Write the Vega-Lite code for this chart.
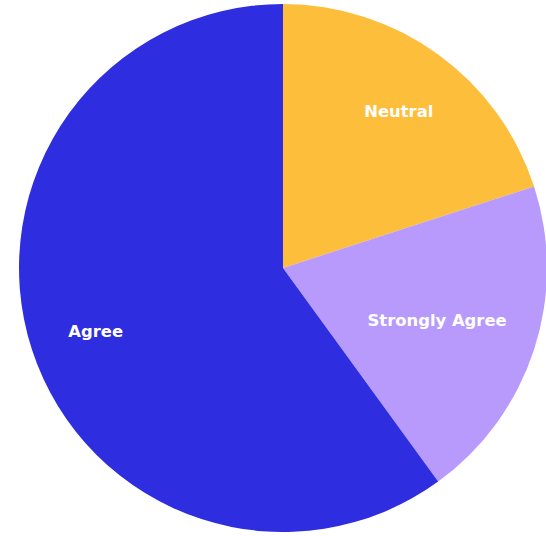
{
  "$schema": "https://vega.github.io/schema/vega-lite/v6.json",
  "width": 526,
  "height": 536,
  "autosize": "none",
  "padding": {"left": 20, "top": 0, "right": 0, "bottom": 0},
  "background": "white",
  "view": {"stroke": null},
  "data": {
    "values": [
      {"response": "Neutral", "value": 20, "rank": 1},
      {"response": "Strongly Agree", "value": 20, "rank": 2},
      {"response": "Agree", "value": 60, "rank": 3}
    ]
  },
  "encoding": {
    "theta": {"field": "value", "type": "quantitative", "stack": true},
    "order": {"field": "rank", "type": "quantitative"},
    "color": {
      "field": "response",
      "type": "nominal",
      "scale": {
        "domain": ["Neutral", "Strongly Agree", "Agree"],
        "range": ["#FDBE3C", "#B79AFC", "#2F2DE0"]
      },
      "legend": null
    }
  },
  "layer": [
    {"mark": {"type": "arc", "outerRadius": 264}},
    {
      "mark": {
        "type": "text",
        "radius": 197,
        "dy": 3,
        "font": "DejaVu Sans",
        "fontWeight": "bold",
        "fontSize": 16.4
      },
      "encoding": {
        "text": {"field": "response", "type": "nominal"},
        "color": {"value": "white"},
        "opacity": {"condition": {"test": "datum.response === 'Strongly Agree'", "value": 0}, "value": 1}
      }
    },
    {
      "mark": {
        "type": "text",
        "radius": 162,
        "dy": 3,
        "font": "DejaVu Sans",
        "fontWeight": "bold",
        "fontSize": 16.4
      },
      "encoding": {
        "text": {"field": "response", "type": "nominal"},
        "color": {"value": "white"},
        "opacity": {"condition": {"test": "datum.response === 'Strongly Agree'", "value": 1}, "value": 0}
      }
    }
  ]
}
